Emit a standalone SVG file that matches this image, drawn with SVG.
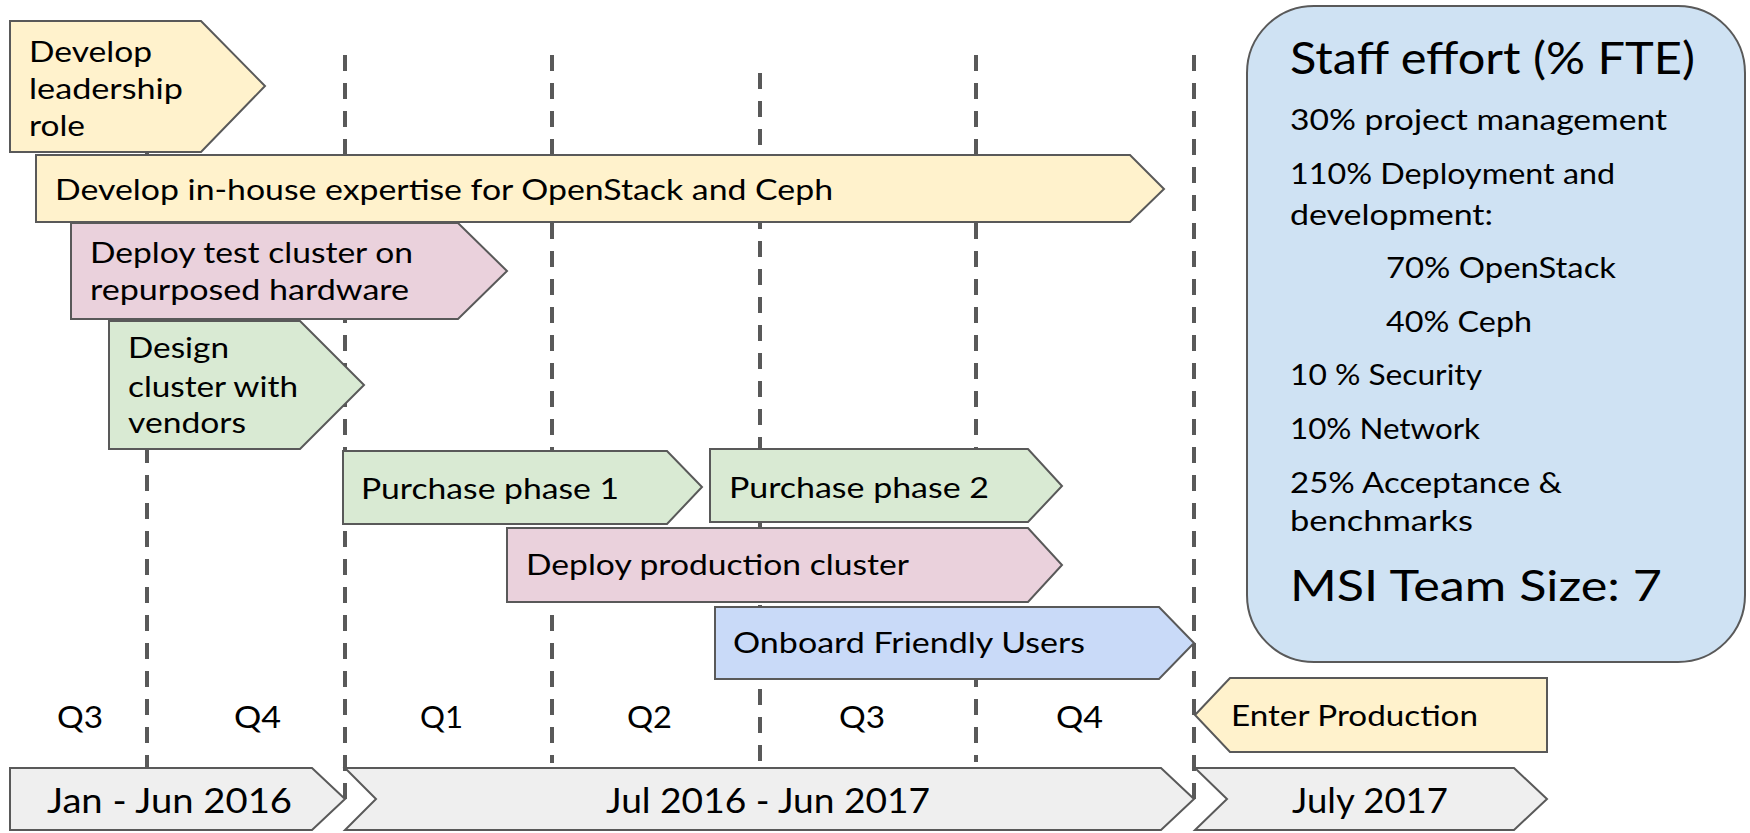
<svg xmlns="http://www.w3.org/2000/svg" width="1750" height="833" viewBox="0 0 1750 833">
<style>
.s{stroke:#595959;stroke-width:2;stroke-linejoin:miter}
.y{fill:#fff2cc}.p{fill:#ead1dc}.g{fill:#d9ead3}.b{fill:#c9daf8}.gr{fill:#efefef}
.d{stroke:#595959;stroke-width:4;stroke-dasharray:16 12;fill:none}
text{font-family:Lato,"Open Sans","Liberation Sans",sans-serif;font-weight:400;fill:#000}
.t{font-size:29px}
.q{font-size:31px}
.big{font-size:35px}
</style>
<rect width="1750" height="833" fill="#fff"/>
<g id="connectors">
<line class="d" x1="147" y1="55" x2="147" y2="768"/>
<line class="d" x1="345" y1="55" x2="345" y2="799"/>
<line class="d" x1="552" y1="55" x2="552" y2="763"/>
<line class="d" x1="760" y1="73" x2="760" y2="762"/>
<line class="d" x1="976" y1="55" x2="976" y2="762"/>
<line class="d" x1="1194" y1="55" x2="1194" y2="799"/>
</g>
<g id="leadership">
<polygon class="s y" points="10,21 201,21 265,86 201,152 10,152"/>
<text class="t" x="29" y="62" textLength="123" lengthAdjust="spacingAndGlyphs">Develop</text>
<text class="t" x="29" y="99" textLength="154" lengthAdjust="spacingAndGlyphs">leadership</text>
<text class="t" x="29" y="136" textLength="56" lengthAdjust="spacingAndGlyphs">role</text>
</g>
<g id="expertise">
<polygon class="s y" points="36,155 1130,155 1164,189 1130,222 36,222"/>
<text class="t" x="55" y="200" textLength="778" lengthAdjust="spacingAndGlyphs">Develop in-house expertise for OpenStack and Ceph</text>
</g>
<g id="test-cluster">
<polygon class="s p" points="71,223 458,223 507,271 458,319 71,319"/>
<text class="t" x="90" y="263" textLength="323" lengthAdjust="spacingAndGlyphs">Deploy test cluster on</text>
<text class="t" x="90" y="300" textLength="319" lengthAdjust="spacingAndGlyphs">repurposed hardware</text>
</g>
<g id="design">
<polygon class="s g" points="109,321 300,321 364,385 300,449 109,449"/>
<text class="t" x="128" y="358" textLength="101" lengthAdjust="spacingAndGlyphs">Design</text>
<text class="t" x="128" y="397" textLength="170" lengthAdjust="spacingAndGlyphs">cluster with</text>
<text class="t" x="128" y="433" textLength="118" lengthAdjust="spacingAndGlyphs">vendors</text>
</g>
<g id="purchase1">
<polygon class="s g" points="343,451 667,451 702,487 667,524 343,524"/>
<text class="t" x="361" y="499" textLength="258" lengthAdjust="spacingAndGlyphs">Purchase phase 1</text>
</g>
<g id="purchase2">
<polygon class="s g" points="710,449 1028,449 1062,486 1028,522 710,522"/>
<text class="t" x="729" y="498" textLength="260" lengthAdjust="spacingAndGlyphs">Purchase phase 2</text>
</g>
<g id="deploy-production">
<polygon class="s p" points="507,528 1028,528 1062,565 1028,602 507,602"/>
<text class="t" x="526" y="575" textLength="383" lengthAdjust="spacingAndGlyphs">Deploy production cluster</text>
</g>
<g id="onboard">
<polygon class="s b" points="715,607 1159,607 1194,643 1159,679 715,679"/>
<text class="t" x="733" y="653" textLength="352" lengthAdjust="spacingAndGlyphs">Onboard Friendly Users</text>
</g>
<g id="enter-production">
<polygon class="s y" points="1195,715 1230,678 1547,678 1547,752 1230,752"/>
<text class="t" x="1231" y="726" textLength="247" lengthAdjust="spacingAndGlyphs">Enter Production</text>
</g>
<g id="staff-effort">
<rect class="s" x="1247" y="6" width="498" height="656" rx="67" ry="67" fill="#cfe2f3"/>
<text x="1290" y="74" font-size="45" textLength="405" lengthAdjust="spacingAndGlyphs">Staff effort (% FTE)</text>
<text class="t" x="1290" y="130" textLength="377" lengthAdjust="spacingAndGlyphs">30% project management</text>
<text class="t" x="1290" y="184" textLength="325" lengthAdjust="spacingAndGlyphs">110% Deployment and</text>
<text class="t" x="1290" y="225" textLength="203" lengthAdjust="spacingAndGlyphs">development:</text>
<text class="t" x="1386" y="278" textLength="230" lengthAdjust="spacingAndGlyphs">70% OpenStack</text>
<text class="t" x="1386" y="332" textLength="146" lengthAdjust="spacingAndGlyphs">40% Ceph</text>
<text class="t" x="1290" y="385" textLength="192" lengthAdjust="spacingAndGlyphs">10 % Security</text>
<text class="t" x="1290" y="439" textLength="190" lengthAdjust="spacingAndGlyphs">10% Network</text>
<text class="t" x="1290" y="493" textLength="272" lengthAdjust="spacingAndGlyphs">25% Acceptance &amp;</text>
<text class="t" x="1290" y="531" textLength="183" lengthAdjust="spacingAndGlyphs">benchmarks</text>
<text x="1290" y="601" font-size="42" textLength="372" lengthAdjust="spacingAndGlyphs">MSI Team Size: 7</text>
</g>
<g id="quarters">
<text class="q" x="57" y="728" textLength="46" lengthAdjust="spacingAndGlyphs">Q3</text>
<text class="q" x="234" y="728" textLength="47" lengthAdjust="spacingAndGlyphs">Q4</text>
<text class="q" x="420" y="728" textLength="43" lengthAdjust="spacingAndGlyphs">Q1</text>
<text class="q" x="627" y="728" textLength="45" lengthAdjust="spacingAndGlyphs">Q2</text>
<text class="q" x="839" y="728" textLength="46" lengthAdjust="spacingAndGlyphs">Q3</text>
<text class="q" x="1056" y="728" textLength="47" lengthAdjust="spacingAndGlyphs">Q4</text>
</g>
<g id="jan-jun-2016">
<polygon class="s gr" points="10,768 312,768 345,799 312,830 10,830"/>
<text class="big" x="47" y="813" textLength="245" lengthAdjust="spacingAndGlyphs">Jan - Jun 2016</text>
</g>
<g id="jul2016-jun2017">
<polygon class="s gr" points="345,768 1161,768 1194,799 1161,830 345,830 376,799"/>
<text class="big" x="606" y="813" textLength="324" lengthAdjust="spacingAndGlyphs">Jul 2016 - Jun 2017</text>
</g>
<g id="july-2017">
<polygon class="s gr" points="1195,768 1514,768 1547,799 1514,830 1195,830 1227,799"/>
<text class="big" x="1292" y="813" textLength="156" lengthAdjust="spacingAndGlyphs">July 2017</text>
</g>
</svg>
